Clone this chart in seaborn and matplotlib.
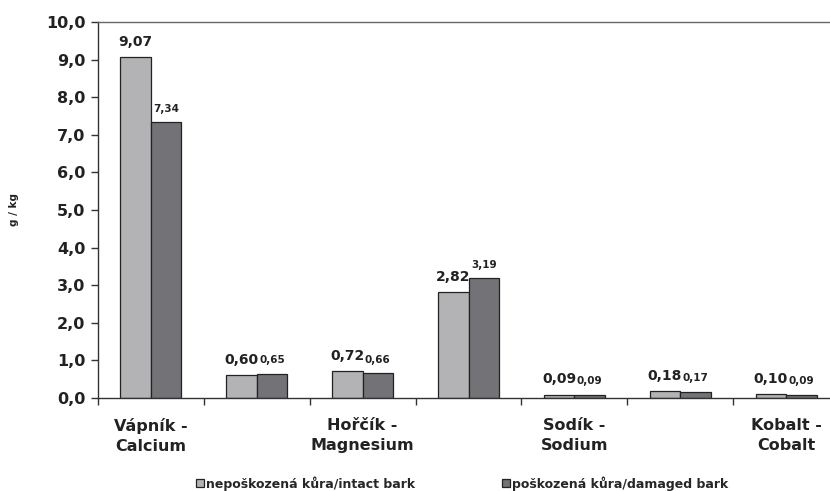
# Bark element content: intact vs damaged bark
import pandas as pd
import matplotlib.pyplot as plt
import seaborn as sns

# Data; only every other category name is shown on the axis
categories = ["Vápník -\nCalcium", "", "Hořčík -\nMagnesium", "", "Sodík -\nSodium", "", "Kobalt -\nCobalt"]
intact = [9.07, 0.60, 0.72, 2.82, 0.09, 0.18, 0.10]
damaged = [7.34, 0.65, 0.66, 3.19, 0.09, 0.17, 0.09]
series = ["nepoškozená kůra/intact bark", "poškozená kůra/damaged bark"]
y_ticks = [0, 1, 2, 3, 4, 5, 6, 7, 8, 9, 10]

# Long format for seaborn
keys = [f"c{i}" for i in range(len(categories))]
df = pd.DataFrame({
    "key": keys * 2,
    "value": intact + damaged,
    "series": [series[0]] * len(keys) + [series[1]] * len(keys),
})

sns.set_style("white")
plt.rcParams["font.family"] = ["DejaVu Sans"]
plt.rcParams["font.weight"] = "bold"

fig = plt.figure(figsize=(8.3, 4.91), dpi=100)
ax = fig.add_axes([98 / 830, 93 / 491, 741 / 830, 376 / 491])

sns.barplot(data=df, x="key", y="value", hue="series", order=keys,
            hue_order=series, palette=["#B3B3B6", "#737377"], width=0.575,
            edgecolor="#222222", linewidth=0.9, saturation=1, ax=ax, legend=True)

# Value labels, comma decimal
for cont, size in zip(ax.containers, [10, 7.5]):
    labels = [f"{b.get_height():.2f}".replace(".", ",") for b in cont]
    ax.bar_label(cont, labels=labels, fontsize=size, fontweight="bold",
                 padding=6, color="#222222")

ax.set_ylim(0, 10)
ax.set_yticks(y_ticks)
ax.set_yticklabels([f"{v:.1f}".replace(".", ",") for v in y_ticks],
                   fontsize=11.5, fontweight="bold", color="#222222")
ax.set_xlim(-0.5, len(keys) - 0.5)

# category names at every other group, tick marks between groups
shown = [i for i, c in enumerate(categories) if c]
ax.set_xticks(shown)
ax.set_xticklabels([categories[i] for i in shown], fontsize=11.5,
                   fontweight="bold", color="#222222", linespacing=1.4)
ax.set_xticks([i - 0.5 for i in range(len(keys) + 1)], minor=True)
ax.tick_params(axis="x", which="major", length=0, pad=14.5)
ax.tick_params(axis="x", which="minor", length=5, width=1, color="#333333",
               direction="out", bottom=True)
ax.tick_params(axis="y", length=5, width=1, color="#333333", direction="out",
               left=True, pad=4)

ax.set_xlabel("")
ax.set_ylabel("g / kg", fontsize=7.5, fontweight="bold", labelpad=19.5,
              color="#222222")

for side in ["left", "bottom", "top"]:
    ax.spines[side].set_visible(True)
    ax.spines[side].set_color("#333333")
    ax.spines[side].set_linewidth(1)
ax.spines["top"].set_color("#666666")
ax.spines["right"].set_visible(False)

handles, labels = ax.get_legend_handles_labels()
ax.get_legend().remove()
fig.legend(handles, labels, loc="lower left", bbox_to_anchor=(187 / 830, -0.017),
           ncol=2, frameon=False, handlelength=0.65, borderpad=0.2,
           handleheight=0.65, handletextpad=0.2, columnspacing=6.9,
           prop={"weight": "bold", "size": 9})

fig.savefig("out.png", dpi=100)
